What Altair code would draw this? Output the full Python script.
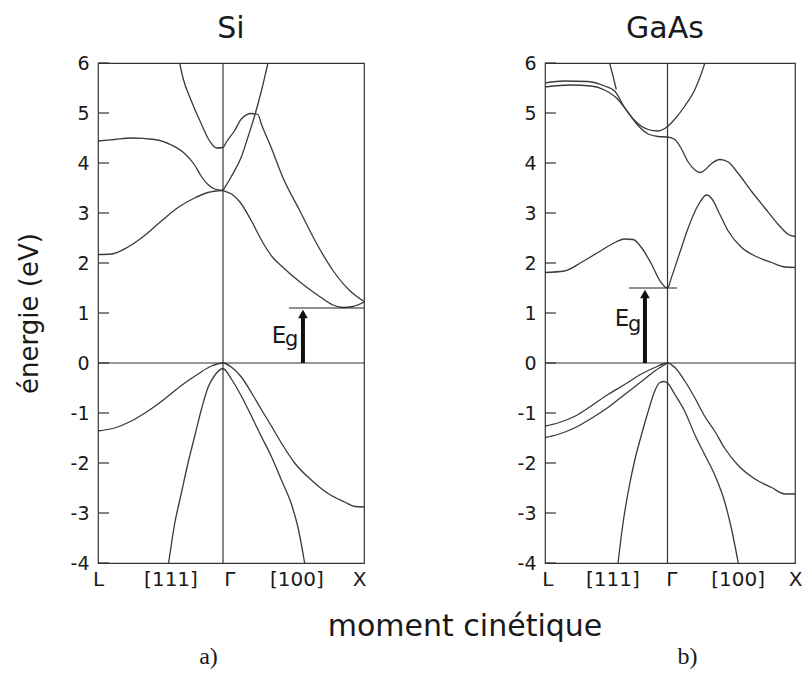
import altair as alt
import pandas as pd

# ---------------- data (t: -1 = L, 0 = Gamma, 1 = X ; E in eV) ----------------
# Si
si_b1_t = [-0.347, -0.32, -0.253, -0.173, -0.107, -0.053, 0.0, 0.024, 0.083, 0.13, 0.201, 0.248, 0.272, 0.343, 0.426, 0.544, 0.662, 0.78, 0.898, 1.0]
si_b1_e = [6.0, 5.7, 5.24, 4.78, 4.44, 4.30, 4.31, 4.42, 4.65, 4.88, 4.99, 4.97, 4.78, 4.3, 3.7, 3.05, 2.4, 1.85, 1.45, 1.23]
si_b2_t = [-1.0, -0.867, -0.733, -0.547, -0.413, -0.307, -0.227, -0.173, -0.12, -0.067, 0.0]
si_b2_e = [4.44, 4.47, 4.5, 4.47, 4.36, 4.19, 3.96, 3.73, 3.57, 3.48, 3.45]
si_b3_t = [-1.0, -0.893, -0.76, -0.627, -0.493, -0.36, -0.227, -0.12, 0.0]
si_b3_e = [2.17, 2.18, 2.32, 2.55, 2.84, 3.11, 3.30, 3.41, 3.45]
si_b4_t = [0.0, 0.06, 0.12, 0.2, 0.28, 0.35, 0.43, 0.55, 0.67, 0.78, 0.85, 0.92, 1.0]
si_b4_e = [3.45, 3.38, 3.22, 2.85, 2.42, 2.12, 1.9, 1.61, 1.36, 1.16, 1.11, 1.13, 1.22]
si_b5_t = [0.0, 0.059, 0.13, 0.177, 0.225, 0.272, 0.319]
si_b5_e = [3.45, 3.73, 4.12, 4.52, 4.95, 5.44, 6.0]
si_v1_t = [-1.0, -0.867, -0.733, -0.6, -0.467, -0.333, -0.2, -0.093, 0.0, 0.059, 0.13, 0.201, 0.272, 0.343, 0.414, 0.508, 0.626, 0.745, 0.863, 0.934, 1.0]
si_v1_e = [-1.36, -1.30, -1.16, -0.96, -0.72, -0.45, -0.22, -0.06, 0.0, -0.08, -0.28, -0.59, -0.93, -1.26, -1.6, -2.0, -2.34, -2.61, -2.78, -2.87, -2.88]
si_v2_t = [-0.435, -0.387, -0.333, -0.28, -0.227, -0.173, -0.12, -0.067, 0.0, 0.059, 0.13, 0.201, 0.272, 0.343, 0.414, 0.485, 0.532, 0.579]
si_v2_e = [-4.0, -3.22, -2.6, -2.0, -1.47, -0.93, -0.49, -0.25, -0.11, -0.32, -0.66, -1.06, -1.47, -1.87, -2.34, -2.82, -3.29, -4.0]

# GaAs
ga_b1_t = [-1.0, -0.842, -0.65, -0.514, -0.432, -0.35, -0.268, -0.158, -0.077, 0.0, 0.058, 0.136, 0.215, 0.267, 0.293]
ga_b1_e = [5.6, 5.64, 5.63, 5.54, 5.44, 5.11, 4.85, 4.67, 4.64, 4.73, 4.88, 5.14, 5.47, 5.8, 6.0]
ga_b2_t = [-0.473, -0.445, -0.418]
ga_b2_e = [6.0, 5.74, 5.47]
ga_b3_t = [-1.0, -0.787, -0.623, -0.514, -0.404, -0.322, -0.24, -0.158, -0.077, 0.0, 0.058, 0.11, 0.162, 0.215, 0.254, 0.293, 0.346, 0.411, 0.476, 0.555, 0.66, 0.764, 0.869, 0.948, 1.0]
ga_b3_e = [5.52, 5.56, 5.54, 5.46, 5.27, 5.01, 4.75, 4.58, 4.53, 4.52, 4.47, 4.28, 4.02, 3.86, 3.81, 3.86, 3.99, 4.07, 4.02, 3.79, 3.43, 3.1, 2.77, 2.57, 2.53]
ga_b4_t = [-1.0, -0.842, -0.705, -0.568, -0.459, -0.35, -0.281, -0.213, -0.131, -0.063, 0.0, 0.031, 0.084, 0.162, 0.241, 0.306, 0.346, 0.411, 0.476, 0.581, 0.686, 0.817, 0.921, 1.0]
ga_b4_e = [1.81, 1.84, 2.01, 2.21, 2.37, 2.48, 2.47, 2.31, 1.98, 1.65, 1.5, 1.71, 2.11, 2.70, 3.16, 3.36, 3.29, 2.97, 2.64, 2.31, 2.14, 2.01, 1.92, 1.91]
ga_v1_t = [-1.0, -0.896, -0.76, -0.623, -0.486, -0.35, -0.213, -0.104, 0.0, 0.058, 0.136, 0.215, 0.293, 0.372, 0.45, 0.555, 0.686, 0.817, 0.921, 1.0]
ga_v1_e = [-1.26, -1.2, -1.07, -0.86, -0.63, -0.43, -0.22, -0.09, 0.0, -0.09, -0.36, -0.7, -1.07, -1.37, -1.71, -2.05, -2.32, -2.49, -2.62, -2.62]
ga_v2_t = [-1.0, -0.896, -0.76, -0.623, -0.486, -0.35, -0.213, -0.104, 0.0]
ga_v2_e = [-1.49, -1.43, -1.3, -1.11, -0.89, -0.63, -0.37, -0.16, 0.0]
ga_v3_t = [-0.404, -0.363, -0.322, -0.268, -0.213, -0.158, -0.104, -0.063, -0.03, 0.0, 0.058, 0.136, 0.215, 0.293, 0.372, 0.45, 0.503, 0.555]
ga_v3_e = [-4.0, -3.2, -2.59, -1.95, -1.44, -0.97, -0.56, -0.39, -0.37, -0.40, -0.63, -0.97, -1.44, -1.84, -2.25, -2.79, -3.33, -4.0]

# gap annotations
si_gap = 1.1
si_gap_line_t = [0.468, 1.0]
si_arrow_t = 0.567
si_E_label = (0.397, 0.41)
si_g_label = (0.44, 0.35)
ga_gap = 1.5
ga_gap_line_t = [-0.314, 0.075]
ga_arrow_t = -0.184
ga_E_label = (-0.371, 0.74)
ga_g_label = (-0.322, 0.64)

y_ticks = [-4, -3, -2, -1, 0, 1, 2, 3, 4, 5, 6]
x_tick_pos_si = [-1.0, -0.42, 0.045, 0.52, 0.965]
x_tick_pos_ga = [-0.98, -0.45, 0.03, 0.55, 1.0]
x_tick_text = ["L", "[111]", "Γ", "[100]", "X"]
x_title_text = "moment cinétique"

SANS = "DejaVu Sans"
LINE = "#3a3a3a"
TXT = "#1a1a1a"
H = 500


def bands(pairs):
    rows = []
    for name, ts, es in pairs:
        for t, e in zip(ts, es):
            rows.append({"band": name, "t": t, "E": e})
    return pd.DataFrame(rows)


def label_expr(pos, texts):
    parts = []
    for i in range(len(pos) - 1):
        mid = (pos[i] + pos[i + 1]) / 2
        parts.append(f"datum.value < {mid} ? '{texts[i]}' : ")
    return "".join(parts) + f"'{texts[-1]}'"


def panel(df, title, title_dx, xrange_, width, tick_pos, ytitle, xtitle, xtitle_x,
          gap, gap_t, arrow_t, E_lab, g_lab, extra=None):
    xscale = alt.Scale(domain=[-1, 0, 1], range=xrange_, nice=False, zero=False)
    yscale = alt.Scale(domain=[-4, 6], nice=False, zero=False)
    xaxis = alt.Axis(values=tick_pos, labelExpr=label_expr(tick_pos, x_tick_text),
                     tickSize=0, domain=False, grid=False, labelPadding=6,
                     labelFont=SANS, labelFontSize=20, labelColor=TXT,
                     labelOverlap=False, labelFlush=False, labelBound=False,
                     title=xtitle, titleFont="Liberation Serif", titleFontSize=24,
                     titleFontWeight="normal", titleColor=TXT, titleX=xtitle_x,
                     titleY=100, titleBaseline="alphabetic", titleAlign="center")
    yaxis = alt.Axis(values=y_ticks, labelExpr="'' + datum.value",
                     tickSize=0, domain=False, grid=False,
                     labelPadding=9, labelFont=SANS, labelFontSize=19, labelColor=TXT,
                     labelOverlap=False, labelFlush=False,
                     title=ytitle, titleFont=SANS, titleFontSize=26,
                     titleFontWeight="normal", titleColor=TXT, titlePadding=28)
    X = alt.X("t:Q", scale=xscale, axis=xaxis)
    Y = alt.Y("E:Q", scale=yscale, axis=yaxis)

    lines = alt.Chart(df).mark_line(interpolate="monotone", color=LINE,
                                    strokeWidth=1.3, clip=True).encode(
        x=X, y=Y, detail="band:N")

    zero = alt.Chart(pd.DataFrame({"E": [0.0]})).mark_rule(
        color="#333", strokeWidth=1.2).encode(y=Y)
    gam = alt.Chart(pd.DataFrame({"t": [0.0]})).mark_rule(
        color="#333", strokeWidth=1.2).encode(x=X)
    ticks = alt.Chart(pd.DataFrame({"E": y_ticks})).mark_rule(
        color="#333", strokeWidth=1.2).encode(y=Y, x=alt.value(0), x2=alt.value(11))
    gapline = alt.Chart(pd.DataFrame({"t": [gap_t[0]], "t2": [gap_t[1]], "E": [gap]})).mark_rule(
        color="#222", strokeWidth=1.2).encode(x=X, x2="t2:Q", y=Y)
    shaft = alt.Chart(pd.DataFrame({"t": [arrow_t], "E": [0.0], "E2": [gap - 0.12]})).mark_rule(
        color="#111", strokeWidth=4).encode(x=X, y=Y, y2="E2:Q")
    head = alt.Chart(pd.DataFrame({"t": [arrow_t], "E": [gap - 0.12]})).mark_point(
        shape="triangle-up", filled=True, size=95, color="#111", opacity=1).encode(x=X, y=Y)
    Etxt = alt.Chart(pd.DataFrame({"t": [E_lab[0]], "E": [E_lab[1]], "s": ["E"]})).mark_text(
        font=SANS, fontSize=23, color=TXT, align="center", baseline="alphabetic").encode(
        x=X, y=Y, text="s:N")
    gtxt = alt.Chart(pd.DataFrame({"t": [g_lab[0]], "E": [g_lab[1]], "s": ["g"]})).mark_text(
        font=SANS, fontSize=21, color=TXT, align="left", baseline="alphabetic").encode(
        x=X, y=Y, text="s:N")

    layers = [lines, zero, gam, ticks, gapline, shaft, head, Etxt, gtxt]
    if extra is not None:
        layers.append(extra)
    return alt.layer(*layers).properties(
        width=width, height=H,
        title=alt.TitleParams(title, font=SANS, fontSize=30, fontWeight="normal",
                              color=TXT, offset=10, anchor="middle", dx=title_dx))


si_df = bands([("c1", si_b1_t, si_b1_e), ("c2", si_b2_t, si_b2_e), ("c3", si_b3_t, si_b3_e),
               ("c4", si_b4_t, si_b4_e), ("c5", si_b5_t, si_b5_e),
               ("v1", si_v1_t, si_v1_e), ("v2", si_v2_t, si_v2_e)])
ga_df = bands([("c1", ga_b1_t, ga_b1_e), ("c2", ga_b2_t, ga_b2_e), ("c3", ga_b3_t, ga_b3_e),
               ("c4", ga_b4_t, ga_b4_e),
               ("v1", ga_v1_t, ga_v1_e), ("v2", ga_v2_t, ga_v2_e), ("v3", ga_v3_t, ga_v3_e)])

# common x-axis title, drawn under the gap between the two panels
xtitle_mark = alt.Chart(pd.DataFrame({"s": [x_title_text]})).mark_text(
    font=SANS, fontSize=30, color=TXT, align="center", baseline="alphabetic").encode(
    x=alt.value(-80), y=alt.value(H + 73), text="s:N")

si = panel(si_df, "Si", 0, [0, 125, 266], 266, x_tick_pos_si, "énergie (eV)", "a)", 110,
           si_gap, si_gap_line_t, si_arrow_t, si_E_label, si_g_label)
ga = panel(ga_df, "GaAs", -5, [0, 122.5, 250], 250, x_tick_pos_ga, None, "b)", 142,
           ga_gap, ga_gap_line_t, ga_arrow_t, ga_E_label, ga_g_label, extra=xtitle_mark)

chart = alt.hconcat(si, ga, spacing=181, bounds="flush").properties(
    padding={"left": 7, "top": 5, "right": 0, "bottom": 0},
).configure_view(stroke="#333", strokeWidth=1.2)

chart.save("out.html", embed_options={"renderer": "svg", "actions": False})
